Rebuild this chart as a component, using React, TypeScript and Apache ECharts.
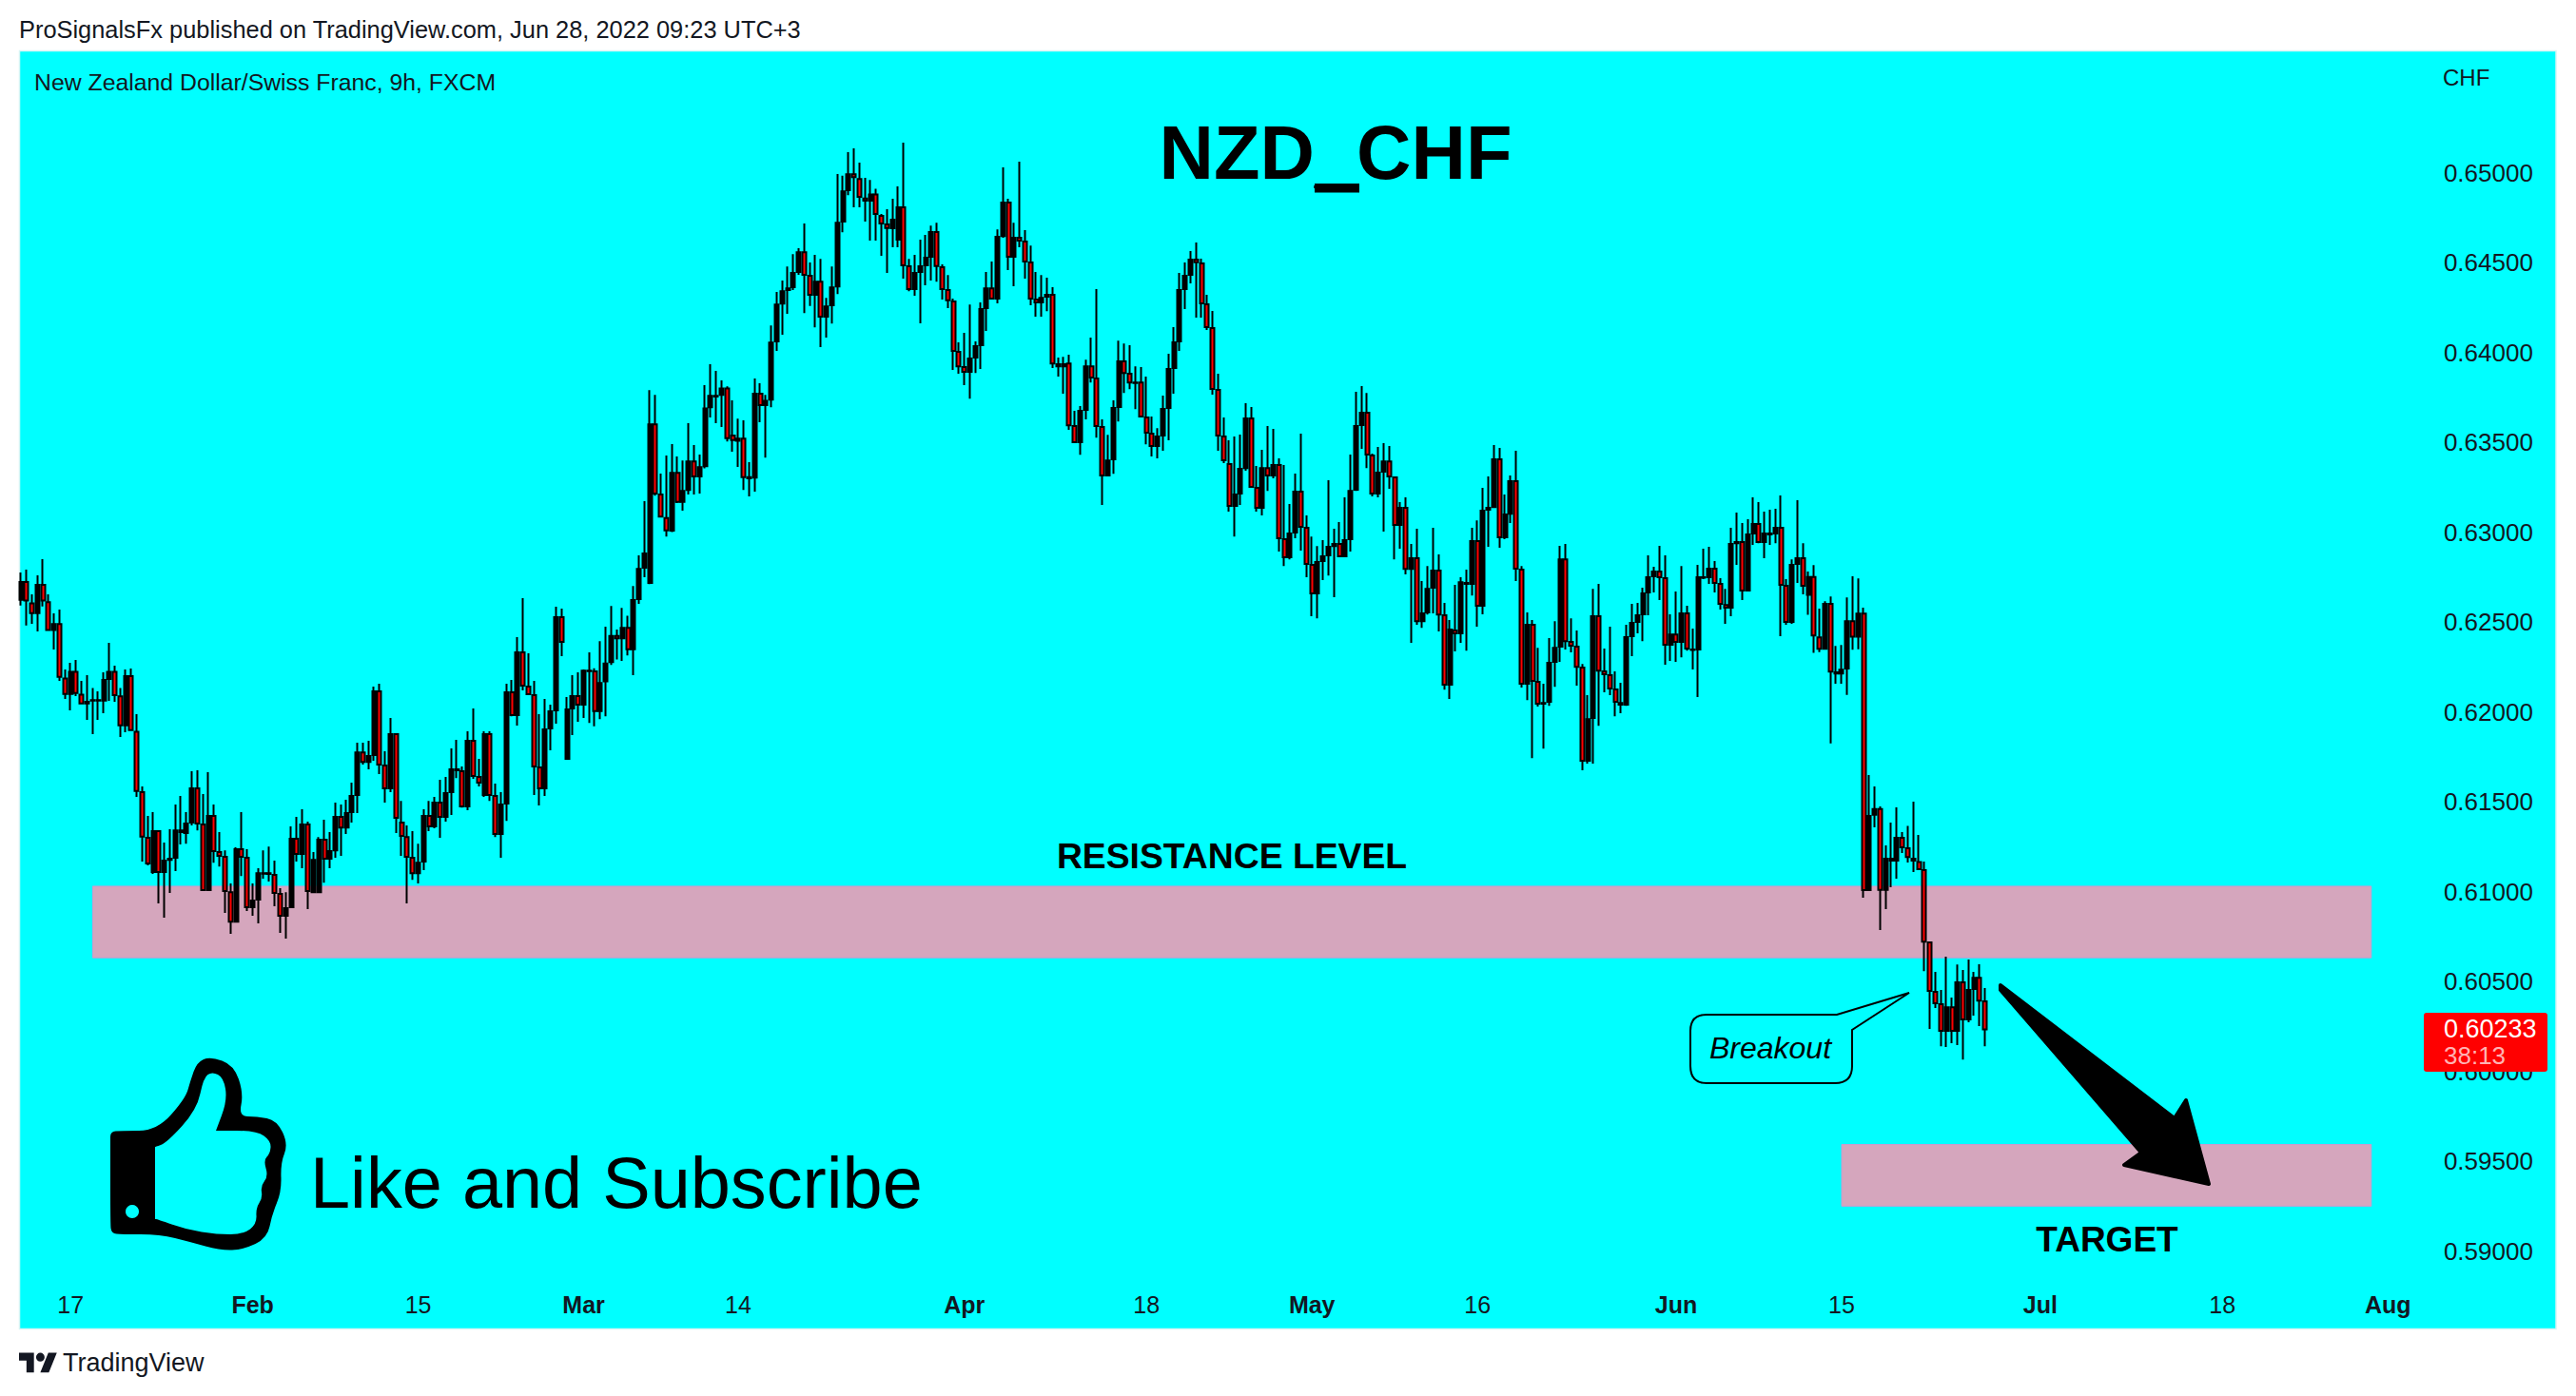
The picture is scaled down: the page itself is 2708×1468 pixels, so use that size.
import React, { useEffect, useRef } from "react";
import * as echarts from "echarts";

// Prices are stored as price x 100000. Each row: [open, close, low, high]
const candlesJanuary = [
[62624,62723,62592,62776],[62723,62619,62481,62791],[62604,62550,62490,62654],[62550,62707,62447,62760],[62707,62620,62587,62850],[62610,62456,62451,62654],[62456,62488,62347,62548],[62488,62195,62172,62569],[62186,62100,62072,62236],[62100,62223,62008,62273],[62223,62105,62088,62289],[62096,62047,62042,62172],[62047,62056,61955,62204],[62063,62066,61876,62133],[62063,62066,61955,62114],[62063,62178,61992,62220],[62183,62223,62061,62384],[62223,62093,62056,62257],[62086,61925,61860,62133],[61925,62199,61887,62236],[62199,61899,61894,62241],[61890,61560,61527,61987],[61553,61306,61167,61585],[61299,61156,61146,61421],[61109,61336,61098,61442],[61336,61109,60934,61341],[61109,61172,60855,61273],[61177,61183,60992,61347],[61188,61341,61114,61484],[61341,61331,61262,61532],[61326,61379,61267,61442],[61384,61574,61368,61670],[61574,61379,61341,61675],[61373,61008,61003,61543],[61008,61421,61003,61664],[61421,61225,61161,61484],[61220,61199,61140,61331],[61193,61003,60881,61230],[60997,60833,60765,61045],[60833,61236,60828,61246],[61236,61193,61087,61442],[61188,60913,60892,61236],
];
const candlesFebruary = [
[60913,60950,60865,61045],[60955,61103,60823,61130],[61100,61103,61072,61230],[61103,61098,61056,61251],[61093,60992,60918,61172],[60987,60865,60770,61019],[60865,60908,60738,60997],[60913,61294,60908,61363],[61294,61209,61167,61416],[61209,61373,61130,61458],[61373,61003,60902,61389],[60997,61177,60992,61220],[60997,61289,60992,61304],[61289,61183,61050,61400],[61183,61225,61130,61331],[61230,61416,61188,61495],[61416,61357,61199,61484],[61357,61437,61320,61511],[61442,61532,61384,61606],[61537,61775,61437,61828],[61775,61722,61707,61828],[61722,61754,61680,61839],[61760,62114,61728,62141],[62114,61707,61654,62156],[61701,61574,61495,61781],[61574,61876,61553,61966],[61876,61410,61326,61881],[61384,61310,61199,61505],[61304,61193,60934,61368],[61188,61103,61066,61336],[61103,61161,61045,61267],[61167,61421,61119,61458],[61421,61363,61336,61505],[61363,61495,61352,61527],[61495,61416,61299,61622],[61416,61548,61389,61638],[61553,61680,61426,61797],[61675,61680,61632,61844],[61670,61474,61468,61696],[61474,61839,61453,61892],[61839,61643,61627,62019],[61638,61606,61585,61738],[61537,61876,61527,61892],[61876,61537,61505,61892],[61532,61320,61304,61601],[61320,61484,61188,61553],[61490,62109,61394,62156],[62109,61982,61976,62178],[61982,62331,61924,62416],[62331,62146,62119,62633],[62141,62098,62093,62326],[62093,61696,61537,62172],[61691,61574,61479,61987],[61574,61902,61532,62072],[61908,62003,61786,62040],[62008,62527,61934,62585],[62527,62389,62310,62574],[61738,62014,61733,62082],[62019,62088,61871,62204],[62088,62040,61945,62220],
];
const candlesMarch = [
[62040,62230,61966,62236],[62227,62230,61939,62331],[62225,62005,61920,62243],[62005,62160,61960,62393],[62170,62269,61975,62474],[62277,62423,62261,62589],[62423,62409,62292,62458],[62409,62468,62283,62579],[62468,62348,62314,62535],[62348,62622,62204,62700],[62628,62796,62601,62871],[62802,62881,62749,63172],[62717,63600,62711,63790],[63600,63215,63203,63764],[63209,63087,63081,63326],[63079,63010,62976,63426],[63008,63330,63000,63490],[63330,63168,63162,63421],[63168,63229,63120,63399],[63235,63393,63209,63606],[63393,63310,63209,63484],[63310,63361,63215,63432],[63367,63689,63355,63818],[63695,63758,63638,63934],[63755,63758,63606,63897],[63764,63800,63585,63845],[63800,63523,63505,63812],[63537,63513,63448,63733],[63509,63521,63363,63632],[63521,63306,63235,63622],[63300,63306,63199,63389],[63304,63770,63225,63855],[63770,63707,63612,63829],[63707,63731,63415,63764],[63737,64055,63695,64150],[64061,64266,64009,64337],[64272,64341,64098,64400],[64347,64357,64215,64478],[64363,64442,64347,64547],[64448,64557,64432,64580],[64557,64432,64219,64717],[64426,64321,64258,64501],[64321,64393,64140,64543],[64393,64199,64029,64521],[64199,64256,64082,64304],[64262,64361,64161,64478],[64367,64722,64325,64993],[64728,64896,64669,64983],[64902,64991,64875,65114],[64991,64975,64807,65135],[64965,64865,64807,65056],[64857,64845,64728,64971],[64845,64879,64622,64960],[64879,64770,64622,64911],[64760,64717,64537,64770],[64712,64692,64442,64797],[64691,64738,64585,64855],[64627,64807,64585,64924],[64807,64484,64410,65167],[64479,64352,64341,64521],[64352,64442,64315,64543],[64447,64479,64162,64627],[64484,64527,64373,64654],[64532,64670,64400,64705],[64670,64481,64394,64722],[64474,64352,64294,64490],[64347,64290,64246,64431],[64283,64008,63902,64299],[64003,63923,63881,64056],
];
const candlesApril = [
[63918,63892,63818,64109],[63892,63966,63743,64267],[63971,64035,63886,64061],[64040,64241,63908,64278],[64246,64357,64119,64447],[64357,64299,64294,64506],[64299,64643,64273,64685],[64648,64834,64638,65029],[64834,64532,64458,64855],[64532,64638,64368,64722],[64638,64622,64585,65061],[64617,64506,64410,64680],[64500,64299,64262,64595],[64294,64278,64199,64447],[64278,64304,64199,64431],[64310,64320,64230,64416],[64320,63939,63913,64363],[63923,63934,63865,63971],[63923,63934,63770,63976],[63939,63595,63569,63987],[63590,63500,63495,63675],[63500,63675,63431,63701],[63680,63923,63627,63960],[63923,63860,63833,64082],[63855,63590,63526,64352],[63585,63315,63151,63627],[63315,63399,63310,63542],[63405,63691,63325,63733],[63696,63950,63616,64066],[63950,63886,63775,64050],[63881,63833,63796,64040],[63830,63833,63685,63923],[63833,63643,63638,63918],[63638,63553,63489,63865],[63548,63479,63421,63643],[63479,63532,63410,63579],[63537,63686,63453,63760],[63691,63908,63511,63992],[63913,64056,63770,64141],[64061,64347,64008,64442],[64352,64426,64241,64500],[64432,64516,64384,64564],[64516,64502,64194,64612],[64495,64273,64194,64522],[64268,64141,64125,64321],[64135,63797,63765,64231],[63791,63537,63453,63881],[63532,63400,63384,63638],[63379,63146,63114,63511],[63146,63209,62976,63532],[63215,63352,63151,63543],[63357,63633,63342,63717],[63633,63252,63246,63696],[63246,63135,63114,63368],[63135,63357,63093,63458],[63357,63315,63230,63590],[63315,63373,63299,63574],[63373,62966,62892,63410],[62961,62860,62812,63373],[62860,62992,62849,63156],[62998,63225,62966,63326],[63225,63029,62897,63548],[63024,62823,62749,63093],
];
const candlesMay = [
[62818,62659,62532,62976],[62659,62834,62521,62923],[62839,62865,62733,62955],[62871,62918,62759,63289],[62923,62934,62638,63019],[62934,62865,62860,63056],[62865,62955,62860,63193],[62961,63230,62892,63432],[63236,63590,63230,63781],[63596,63664,63463,63813],[63664,63432,63357,63775],[63426,63215,63199,63437],[63215,63331,63193,63474],[63336,63394,63003,63495],[63394,63310,63241,63479],[63305,63040,62849,63310],[63040,63135,62908,63167],[63135,62796,62765,63193],[62796,62855,62384,62934],[62855,62505,62484,63019],[62505,62548,62468,62728],[62553,62685,62542,62812],[62691,62786,62548,63024],[62786,62542,62447,62876],[62537,62151,62124,62606],[62151,62458,62072,62511],[62453,62437,62336,62707],[62437,62722,62384,62749],[62717,62712,62341,62791],[62712,62950,62648,63024],[62950,62590,62474,63066],[62590,63119,62543,63246],[63125,63135,62918,63310],[63140,63405,63135,63484],[63405,62971,62913,63469],[62971,63098,62961,63209],[63103,63283,63051,63315],[63283,62797,62728,63453],[62791,62156,62135,62812],[62156,62484,62066,62553],[62484,62172,61743,62511],[62167,62045,62029,62357],[62045,62050,61796,62156],[62056,62273,62034,62410],[62278,62357,62140,62505],[62363,62849,62278,62924],[62849,62394,62347,62934],[62389,62368,62331,62521],[62363,62251,62146,62453],[62246,61728,61675,62267],[61728,61960,61712,62093],[61966,62532,61712,62685],[62532,62230,61923,62712],[62225,62209,62109,62352],[62204,62130,62093,62474],[62125,62056,61976,62225],[62040,62050,61992,62162],[62040,62416,62034,62484],[62421,62495,62310,62601],[62500,62537,62437,62606],[62543,62659,62394,62691],[62664,62749,62537,62871],[62754,62781,62664,62807],[62781,62749,62622,62924],[62744,62373,62262,62871],[62373,62431,62283,62543],
];
const candlesJune = [
[62431,62389,62278,62670],[62389,62548,62304,62812],[62548,62352,62341,62590],[62344,62347,62236,62463],[62347,62749,62082,62818],[62746,62749,62738,62908],[62749,62797,62712,62918],[62797,62717,62664,62839],[62712,62601,62569,62744],[62595,62580,62490,62685],[62580,62934,62532,63024],[62939,62945,62818,63109],[62945,62675,62622,63051],[62675,62987,62670,63072],[62992,63045,62929,63193],[63045,62945,62939,63167],[62945,62992,62855,63114],[62987,62992,62929,63125],[62992,63024,62939,63130],[63024,62707,62421,63204],[62701,62500,62484,62738],[62500,62818,62490,62849],[62823,62855,62717,63178],[62855,62701,62654,62939],[62651,62750,62540,62781],[62750,62425,62328,62817],[62414,62351,62332,62575],[62351,62601,62346,62616],[62601,62224,61825,62642],[62220,62213,62157,62367],[62213,62234,62157,62372],[62241,62504,62095,62637],[62504,62418,62346,62755],[62418,62547,62349,62743],[62547,61008,60966,62580],[61008,61421,61003,61649],[61428,61460,61358,61585],[61460,61010,60786,61474],[61010,61183,60902,61257],[61183,61172,61024,61384],[61172,61299,61072,61469],[61299,61246,61215,61331],[61241,61192,61162,61366],[61172,61183,61109,61500],[61165,61125,61119,61315],[61119,60722,60558,61167],[60717,60447,60236,60722],[60442,60379,60352,60553],[60373,60225,60140,60453],[60225,60357,60135,60638],[60357,60225,60156,60410],[60225,60495,60146,60595],[60495,60289,60066,60564],[60289,60453,60273,60622],[60458,60521,60310,60553],[60521,60394,60252,60596],[60389,60233,60140,60463],
];

const timeTickLabels = ["17","Feb","15","Mar","14","Apr","18","May","16","Jun","15","Jul","18","Aug"];
const timeTickSlots = [9,42,72,102,130,171,204,234,264,300,330,366,399,429];
const monthLabels = ["Feb","Mar","Apr","May","Jun","Jul","Aug"];
const slotCount = 436;

const resistanceZone = { from: 13, to: 426, high: 0.6103, low: 0.60632 };
const targetZone = { from: 330, to: 426, high: 0.59593, low: 0.5925 };

const lastPrice = "0.60233";
const countdown = "38:13";

const FONT = '"Liberation Sans", Arial, sans-serif';
const INK = "#131722";

const smoothClosed = (pts: number[][]) => {
  const mid = (a: number[], b: number[]) => [(a[0] + b[0]) / 2, (a[1] + b[1]) / 2];
  const n = pts.length;
  const start = mid(pts[n - 1], pts[0]);
  let d = `M${start[0]} ${start[1]}`;
  for (let i = 0; i < n; i++) {
    const m = mid(pts[i], pts[(i + 1) % n]);
    d += `Q${pts[i][0]} ${pts[i][1]} ${m[0]} ${m[1]}`;
  }
  return d + "Z";
};

const thumbOuter = [[127,1189],[116,1190],[116,1201],[116,1286],[117,1297],[128,1298],[168,1298],[200,1306],[232,1315],[256,1314],[281,1302],[286,1277],[296,1253],[295,1223],[303,1203],[291,1178],[270,1174],[251,1174],[256,1150],[246,1120],[221,1111],[207,1117],[200,1137],[195,1155],[165,1189]];
const thumbInner = [[163,1206],[163,1206],[175,1202],[207,1167],[214,1133],[223,1127],[235,1133],[239,1157],[227,1189],[227,1189],[270,1189],[285,1200],[284,1213],[277,1220],[282,1237],[274,1247],[276,1260],[269,1270],[270,1287],[256,1298],[228,1298],[196,1293],[165,1282],[163,1282],[163,1282]];

echarts.graphic.registerShape("thumbOut", echarts.graphic.extendPath(smoothClosed(thumbOuter), {}) as any);
echarts.graphic.registerShape("thumbIn", echarts.graphic.extendPath(smoothClosed(thumbInner), {}) as any);
echarts.graphic.registerShape(
  "callout",
  echarts.graphic.extendPath(
    "M1794 1067L1931 1067L2007 1044L1947 1083L1947 1121Q1947 1139 1929 1139L1794 1139Q1777 1139 1777 1121L1777 1084Q1777 1067 1794 1067Z",
    {}
  ) as any
);
echarts.graphic.registerShape(
  "tvLogo",
  echarts.graphic.extendPath(
    "M14 22H7V11H0V4h14v18zM28 22h-8l7.5-18h8L28 22zM24 8a4 4 0 1 1-8 0 4 4 0 0 1 8 0z",
    {}
  ) as any
);

const txt = (text: string, x: number, y: number, size: number, extra: any = {}) => ({
  type: "text",
  x,
  y,
  z: 100,
  silent: true,
  style: {
    text,
    font: `${extra.italic ? "italic " : ""}${extra.weight || "normal"} ${size}px ${FONT}`,
    fill: extra.fill || "#000000",
    textAlign: extra.align || "left",
    textVerticalAlign: "middle",
  },
});

export default function App() {
  const ref = useRef<HTMLDivElement>(null);
  useEffect(() => {
    const chart = echarts.init(ref.current!, undefined, { renderer: "svg" });
    const rows = [
      ...candlesJanuary, ...candlesFebruary, ...candlesMarch,
      ...candlesApril, ...candlesMay, ...candlesJune,
    ].map((r) => r.map((v) => v / 100000));
    const categories = Array.from({ length: slotCount }, (_, i) => {
      const k = timeTickSlots.indexOf(i);
      return k >= 0 ? timeTickLabels[k] : `s${i}`;
    });
    const zone = (z: typeof resistanceZone) => [
      { xAxis: z.from, yAxis: z.high },
      { xAxis: z.to, yAxis: z.low },
    ];
    chart.setOption({
      animation: false,
      backgroundColor: "#ffffff",
      grid: { left: 19.1, top: 87.1, width: 5.8 * slotCount, height: 1228.5, containLabel: false },
      xAxis: {
        type: "category",
        data: categories,
        boundaryGap: true,
        axisLine: { show: false },
        axisTick: { show: false },
        splitLine: { show: false },
        axisLabel: {
          interval: (i: number) => timeTickSlots.includes(i),
          margin: 44,
          hideOverlap: false,
          formatter: (v: string) => (monthLabels.includes(v) ? `{m|${v}}` : `{d|${v}}`),
          rich: {
            m: { fontFamily: FONT, fontSize: 25, fontWeight: 700, color: INK },
            d: { fontFamily: FONT, fontSize: 25, color: INK },
          },
        },
      },
      yAxis: {
        type: "value",
        position: "right",
        min: 0.59,
        max: 0.655,
        interval: 0.005,
        axisLine: { show: false },
        axisTick: { show: false },
        splitLine: { show: false },
        axisLabel: {
          margin: 21,
          fontFamily: FONT,
          fontSize: 26,
          color: INK,
          formatter: (v: number) => (v > 0.6525 ? "" : v.toFixed(5)),
        },
      },
      series: [
        {
          type: "candlestick",
          data: rows,
          barWidth: 4.5,
          clip: false,
          silent: true,
          itemStyle: {
            color: "#000000",
            color0: "#ff0000",
            borderColor: "#000000",
            borderColor0: "#000000",
            borderWidth: 2,
          },
          markArea: {
            silent: true,
            z: 1,
            itemStyle: { color: "#d5a6bd", borderColor: "#c89bd0", borderWidth: 1, opacity: 1 },
            data: [zone(resistanceZone), zone(targetZone)],
          },
        },
      ],
      graphic: {
        elements: [
          { type: "rect", z: -1, silent: true, shape: { x: 20.5, y: 53.5, width: 2666.5, height: 1344 }, style: { fill: "#00ffff", stroke: "#d6f5f5", lineWidth: 1.5 } },
          txt("ProSignalsFx published on TradingView.com, Jun 28, 2022 09:23 UTC+3", 20, 31, 25.4, { fill: INK }),
          txt("New Zealand Dollar/Swiss Franc, 9h, FXCM", 36, 86, 24.8, { fill: INK }),
          txt("CHF", 2568, 81, 24, { fill: INK }),
          txt("NZD_CHF", 1404, 160, 79.5, { weight: "bold", align: "center" }),
          { type: "rect", z: 100, silent: true, shape: { x: 1382, y: 193, width: 47, height: 9.5 }, style: { fill: "#000000" } },
          txt("RESISTANCE LEVEL", 1295, 900, 37.3, { weight: "bold", align: "center" }),
          txt("TARGET", 2215, 1303, 37, { weight: "bold", align: "center" }),
          { type: "callout", z: 100, x: 0, y: 0, silent: true, style: { fill: "#00ffff", stroke: "#000000", lineWidth: 2 } },
          txt("Breakout", 1861, 1102, 32, { italic: true, align: "center" }),
          {
            type: "polygon", z: 100, silent: true,
            shape: { points: [[2103, 1036], [2286, 1176], [2298, 1157], [2322, 1245], [2233, 1225], [2251, 1212], [2103, 1041]] },
            style: { fill: "#000000", stroke: "#000000", lineWidth: 4, lineJoin: "round" },
          },
          { type: "thumbOut", z: 100, x: 0, y: 0, silent: true, style: { fill: "#000000" } },
          { type: "thumbIn", z: 101, x: 0, y: 0, silent: true, style: { fill: "#00ffff" } },
          { type: "ellipse", z: 101, silent: true, shape: { cx: 139, cy: 1274, rx: 7, ry: 7 }, style: { fill: "#00ffff" } },
          txt("Like and Subscribe", 326, 1243, 75.7),
          { type: "rect", z: 100, silent: true, shape: { x: 2548, y: 1065, width: 130, height: 62, r: 3 }, style: { fill: "#ff0000" } },
          txt(lastPrice, 2569, 1082, 27, { fill: "#ffffff" }),
          txt(countdown, 2569, 1110, 26, { fill: "#ffb3b3" }),
          { type: "tvLogo", z: 100, x: 20, y: 1418, scaleX: 1.12, scaleY: 1.15, silent: true, style: { fill: INK } },
          txt("TradingView", 66, 1433, 27, { fill: INK }),
        ],
      },
    });
    return () => chart.dispose();
  }, []);
  return <div ref={ref} style={{ position: "absolute", left: 0, top: 0, width: 2708, height: 1468 }} />;
}
